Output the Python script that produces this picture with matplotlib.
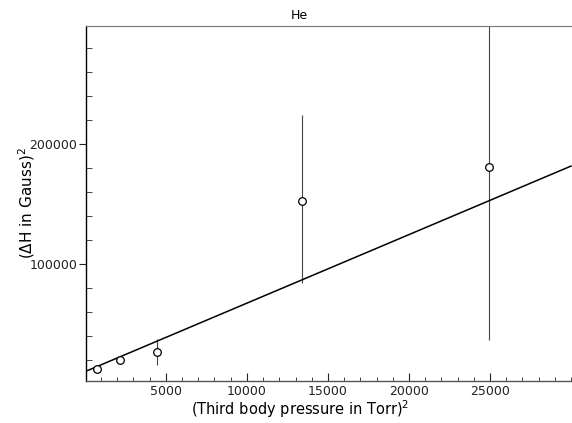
import matplotlib
matplotlib.use("Agg")
import matplotlib.pyplot as plt
import numpy as np
from matplotlib.ticker import MultipleLocator, FixedLocator

# data
pressure_sq = [760, 2160, 4470, 13400, 24950]
dh_sq = [12700, 20000, 26400, 152500, 181000]
err_lo = [0, 0, 10600, 68500, 144300]
err_hi = [0, 0, 11100, 71500, 140000]

fit_x = [0, 30000]
fit_y = [10250, 181600]

xticks = [5000, 10000, 15000, 20000, 25000]
yticks = [100000, 200000]

fig = plt.figure(figsize=(5.72, 4.23), dpi=100)
ax = fig.add_axes([0.150, 0.0993, 0.850, 0.8392])

ax.plot(fit_x, fit_y, color="black", lw=1.1, zorder=2)
ax.errorbar(pressure_sq, dh_sq, yerr=[err_lo, err_hi], fmt="none",
            ecolor="#444444", elinewidth=0.8, capsize=0, zorder=1)
ax.plot(pressure_sq, dh_sq, "o", mfc="white", mec="black", mew=0.9,
        ms=5.5, zorder=3)

ax.set_xlim(60, 30060)
ax.set_ylim(2500, 298300)

ax.spines["right"].set_visible(False)
ax.spines["top"].set_color("#777777")
ax.spines["top"].set_linewidth(0.8)
ax.spines["left"].set_linewidth(1.0)
ax.spines["bottom"].set_linewidth(1.0)
ax.spines["bottom"].set_color("#555555")

ax.xaxis.set_major_locator(FixedLocator(xticks))
ax.xaxis.set_minor_locator(MultipleLocator(1000))
ax.yaxis.set_major_locator(FixedLocator(yticks))
ax.yaxis.set_minor_locator(MultipleLocator(20000))

ax.tick_params(axis="x", which="major", direction="in", length=6, width=0.8,
               labelsize=9, pad=3, colors="#222222", top=False)
ax.tick_params(axis="x", which="minor", direction="in", length=3, width=0.7,
               colors="#444444", top=False)
ax.tick_params(axis="y", which="major", direction="out", length=5, width=0.8,
               labelsize=9, pad=1, colors="#222222", right=False)
ax.tick_params(axis="y", which="minor", direction="in", length=4, width=0.7,
               colors="#444444", right=False)

ax.set_xlabel("(Third body pressure in Torr)$^2$", fontsize=10.5)
ax.xaxis.set_label_coords(0.44, -0.05)
ax.set_ylabel("($\\Delta$H in Gauss)$^2$", fontsize=11)
ax.yaxis.set_label_coords(-0.10, 0.5)
ax.text(0.44, 1.012, "He", transform=ax.transAxes, ha="center", va="bottom",
        fontsize=9)

fig.savefig("out.png", dpi=100)
